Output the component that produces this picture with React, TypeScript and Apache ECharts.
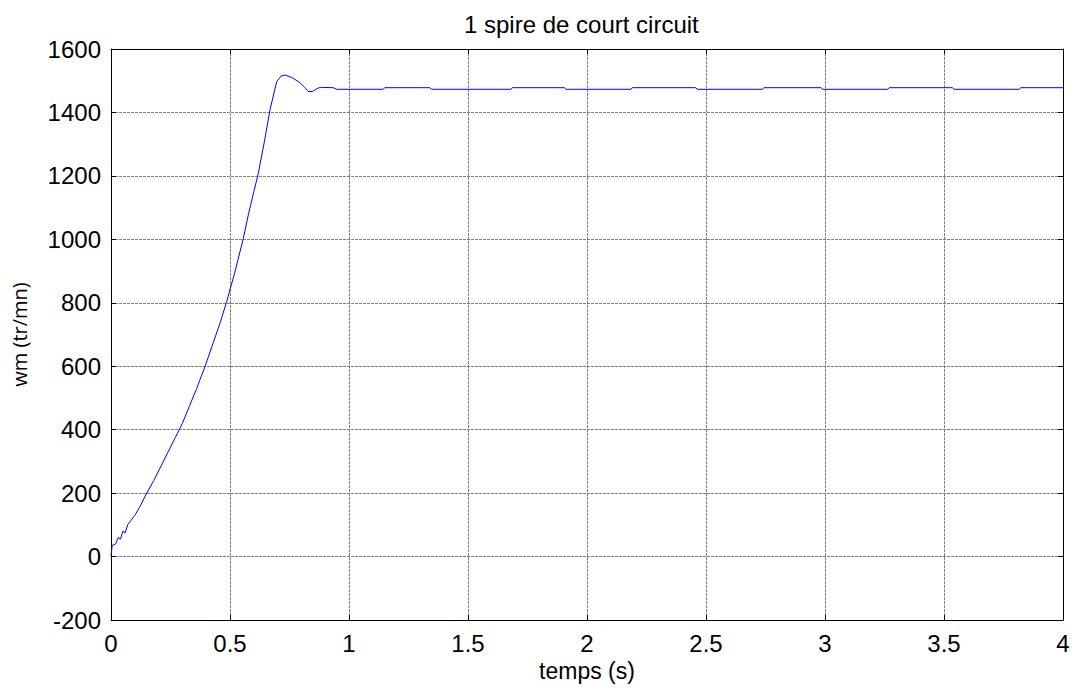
import React, { useEffect, useRef } from "react";
import * as echarts from "echarts";

const timeValues: number[] = [
  0, 0.005, 0.02, 0.03, 0.04, 0.05, 0.06, 0.07, 0.08, 0.1, 0.12, 0.15, 0.18, 0.21, 0.24, 0.27,
  0.3, 0.33, 0.36, 0.395, 0.43, 0.46, 0.486, 0.52, 0.556, 0.577, 0.6, 0.619, 0.645, 0.668,
  0.696, 0.715, 0.731, 0.76, 0.794, 0.815, 0.829, 0.845, 0.857, 0.87, 0.885, 0.934, 0.948,
  1.144, 1.15, 1.34, 1.346, 1.68, 1.687, 1.905, 1.912, 2.185, 2.19, 2.457, 2.463, 2.737,
  2.743, 2.983, 2.99, 3.263, 3.27, 3.536, 3.542, 3.816, 3.822, 4.0,
];
const speedValues: number[] = [
  0, 35, 40, 60, 55, 80, 75, 100, 110, 130, 155, 200, 240, 285, 330, 375,
  420, 475, 530, 599, 675, 740, 804, 895, 1003, 1077, 1150, 1208, 1310, 1408,
  1497, 1515, 1518, 1510, 1494, 1478, 1466, 1466, 1471, 1477, 1479, 1478, 1473,
  1473, 1478, 1478, 1473, 1473, 1478, 1478, 1473, 1473, 1478, 1478, 1473, 1473,
  1478, 1478, 1473, 1473, 1478, 1478, 1473, 1473, 1478, 1478,
];
const xTickLabels: string[] = ["0", "0.5", "1", "1.5", "2", "2.5", "3", "3.5", "4"];

const FONT = "Liberation Sans, Arial, sans-serif";

export default function App() {
  const ref = useRef<HTMLDivElement>(null);
  useEffect(() => {
    if (!ref.current) return;
    const chart = echarts.init(ref.current, undefined, { renderer: "svg" });
    const data = timeValues.map((t, i) => [t, speedValues[i]]);
    const boxAxis = {
      axisLine: { show: true, onZero: false, lineStyle: { color: "#000", width: 1 } },
      axisTick: { show: true, inside: true, length: 5, lineStyle: { color: "#000" } },
      axisLabel: { show: false },
      splitLine: { show: false },
    };
    const gridLine = { show: true, lineStyle: { color: "#808080", type: [3, 1], width: 1 } };
    chart.setOption({
      animation: false,
      backgroundColor: "#fff",
      graphic: [
        {
          type: "text",
          left: 587 - 123,
          top: 12,
          style: {
            text: "1 spire de court circuit",
            fontFamily: FONT,
            fontSize: 24,
            fill: "#000",
          },
        },
      ],
      grid: { left: 111, right: 10, top: 49, bottom: 71 },
      xAxis: [
        {
          type: "value",
          min: 0,
          max: 4,
          interval: 0.5,
          name: "temps (s)",
          nameLocation: "middle",
          nameGap: 37,
          nameTextStyle: { fontFamily: FONT, fontSize: 23, color: "#000" },
          axisLine: { show: true, onZero: false, lineStyle: { color: "#000", width: 1 } },
          axisTick: { show: true, inside: true, length: 5, lineStyle: { color: "#000" } },
          axisLabel: {
            fontFamily: FONT,
            fontSize: 24,
            color: "#000",
            margin: 11,
            formatter: (v: number) => xTickLabels[Math.round(v / 0.5)] ?? String(v),
          },
          splitLine: gridLine,
        },
        { type: "value", min: 0, max: 4, interval: 0.5, position: "top", ...boxAxis },
      ],
      yAxis: [
        {
          type: "value",
          min: -200,
          max: 1600,
          interval: 200,
          name: "wm (tr/mn)",
          nameLocation: "middle",
          nameGap: 82,
          nameTextStyle: { fontFamily: "Open Sans, sans-serif", fontSize: 20, color: "#000" },
          axisLine: { show: true, onZero: false, lineStyle: { color: "#000", width: 1 } },
          axisTick: { show: true, inside: true, length: 5, lineStyle: { color: "#000" } },
          axisLabel: {
            fontFamily: FONT,
            fontSize: 24,
            color: "#000",
            margin: 10,
            formatter: (v: number) => String(v),
          },
          splitLine: gridLine,
        },
        { type: "value", min: -200, max: 1600, interval: 200, position: "right", ...boxAxis },
      ],
      series: [
        {
          type: "line",
          data,
          showSymbol: false,
          symbol: "none",
          lineStyle: { color: "#0000ff", width: 1 },
          xAxisIndex: 0,
          yAxisIndex: 0,
        },
      ],
    });
    return () => chart.dispose();
  }, []);
  return (
    <div
      ref={ref}
      style={{ position: "fixed", left: 0, top: 0, width: 1073, height: 691, background: "#fff" }}
    />
  );
}
